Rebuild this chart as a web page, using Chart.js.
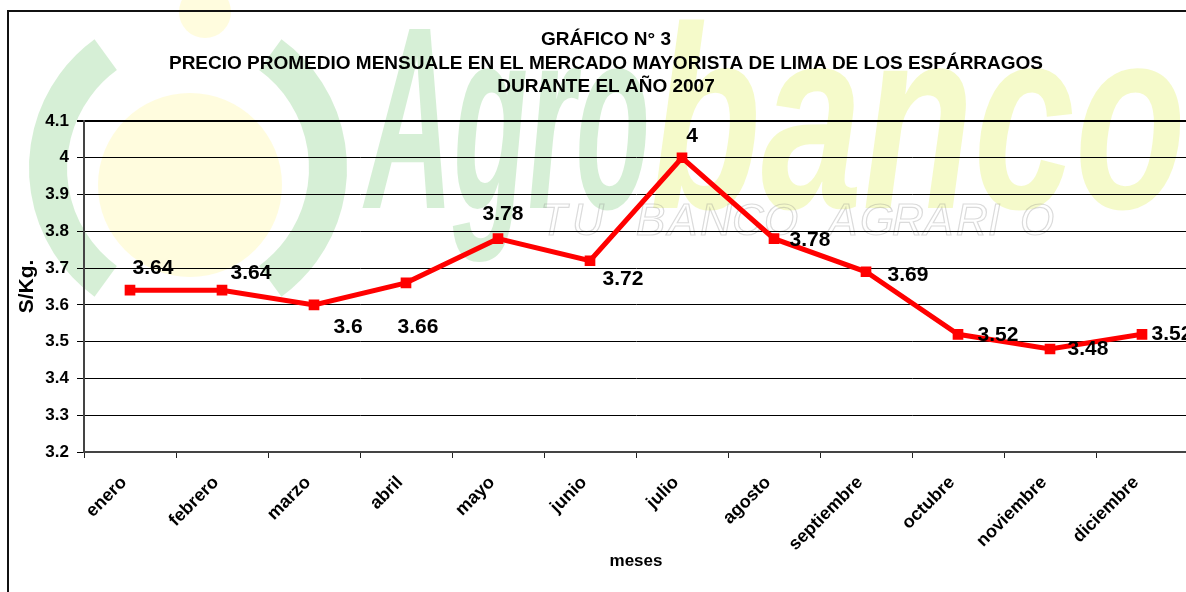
<!DOCTYPE html>
<html>
<head>
<meta charset="utf-8">
<script src="https://cdn.jsdelivr.net/npm/chart.js@4.4.1/dist/chart.umd.min.js"></script>
<style>
  html, body { margin: 0; padding: 0; overflow: hidden; background: #fff; }
  #wrap { width: 1200px; height: 592px; }
</style>
</head>
<body>
<div id="wrap"><canvas id="myChart"></canvas></div>
<script>
const meses = ["enero", "febrero", "marzo", "abril", "mayo", "junio", "julio",
               "agosto", "septiembre", "octubre", "noviembre", "diciembre"];
const precios = [3.64, 3.64, 3.6, 3.66, 3.78, 3.72, 4, 3.78, 3.69, 3.52, 3.48, 3.52];
const titulo = ["GRÁFICO N° 3",
                "PRECIO PROMEDIO MENSUALE EN EL MERCADO MAYORISTA DE LIMA DE LOS ESPÁRRAGOS",
                "DURANTE EL AÑO 2007"];

const FONT = "'Liberation Sans', Arial, sans-serif";

// where each value label sits relative to its point (Excel put them by hand)
const labelOffsets = [[23, -22], [29, -17], [34, 22], [12, 44], [5, -24], [33, 18],
                      [10, -22], [36, 2], [42, 3], [40, 1], [38, 0], [30, 0]];

const fondo = {
    id: "fondo",
    beforeDraw( chart ) {
        const ctx = chart.ctx;
        ctx.save();
        ctx.fillStyle = "#fff";
        ctx.fillRect( 0, 0, chart.width, chart.height );

        // faded Agrobanco watermark
        ctx.globalAlpha = 0.25;
        ctx.fillStyle = "#fff27a";
        ctx.beginPath();
        ctx.arc( 190, 185, 92, 0, Math.PI * 2 );
        ctx.fill();
        ctx.beginPath();
        ctx.arc( 205, 12, 26, 0, Math.PI * 2 );
        ctx.fill();

        ctx.strokeStyle = "#5cc05c";
        ctx.lineWidth = 38;
        ctx.beginPath();
        ctx.arc( 188, 168, 140, Math.PI * 0.7, Math.PI * 1.3 );
        ctx.stroke();
        ctx.beginPath();
        ctx.arc( 188, 168, 140, -Math.PI * 0.3, Math.PI * 0.3 );
        ctx.stroke();

        ctx.font = "italic bold 260px " + FONT;
        ctx.textBaseline = "alphabetic";
        ctx.save();
        ctx.translate( 365, 208 );
        ctx.scale( 0.47, 1 );
        ctx.fillStyle = "#5cc05c";
        ctx.fillText( "Agro", 0, 0 );
        ctx.restore();
        ctx.save();
        ctx.translate( 650, 208 );
        ctx.scale( 0.7, 1 );
        ctx.fillStyle = "#d8ec2a";
        ctx.fillText( "banco", 0, 0 );
        ctx.restore();

        ctx.globalAlpha = 0.3;
        ctx.strokeStyle = "#888";
        ctx.lineWidth = 1.2;
        ctx.font = "italic 44px " + FONT;
        const lema = "TU BANCO AGRARIO";
        let x = 540;
        for ( const ch of lema ) {
            ctx.strokeText( ch, x, 235 );
            x += 32;
        }
        ctx.restore();
    },
    afterDraw( chart ) {
        const ctx = chart.ctx;
        ctx.save();
        ctx.strokeStyle = "#111";
        ctx.lineWidth = 2;
        ctx.strokeRect( 8, 11, chart.width + 20, chart.height + 20 );

        ctx.fillStyle = "#000";
        ctx.font = "bold 19px " + FONT;
        ctx.textAlign = "center";
        ctx.textBaseline = "middle";
        titulo.forEach( ( t, i ) => ctx.fillText( t, 606, 40 + i * 23.5 ) );
        ctx.restore();
    }
};

const etiquetas = {
    id: "etiquetas",
    afterDatasetsDraw( chart ) {
        const ctx = chart.ctx;
        const meta = chart.getDatasetMeta( 0 );
        ctx.save();
        ctx.fillStyle = "#000";
        ctx.font = "bold 21px " + FONT;
        ctx.textAlign = "center";
        ctx.textBaseline = "middle";
        meta.data.forEach( ( pt, i ) => {
            const [dx, dy] = labelOffsets[i];
            ctx.fillText( String( precios[i] ), pt.x + dx, pt.y + dy );
        } );
        ctx.restore();
    }
};

const myChartRef = document.getElementById( "myChart" ).getContext( "2d" );

new Chart( myChartRef, {
    type: "line",
    data: {
        labels: [...meses],
        datasets: [
            {
                label: "S/Kg.",
                data: [...precios],
                borderColor: "#ff0000",
                backgroundColor: "#ff0000",
                borderWidth: 5,
                pointStyle: "rect",
                pointRadius: 4,
                tension: 0,
            }
        ]
    },
    options: {
        responsive: true,
        maintainAspectRatio: false,
        animation: false,
        layout: {
            padding: { top: 121, right: 12, left: 0, bottom: 0 }
        },
        plugins: {
            legend: { display: false },
            tooltip: { enabled: false },
        },
        scales: {
            x: {
                offset: true,
                grid: {
                    offset: true,
                    drawOnChartArea: false,
                    drawTicks: true,
                    tickLength: 6,
                    color: "#222",
                },
                border: { color: "#444", width: 2 },
                ticks: {
                    color: "#000",
                    font: { family: FONT, size: 18, weight: "bold" },
                    maxRotation: 45,
                    minRotation: 45,
                    padding: 14,
                    labelOffset: -6,
                    autoSkip: false,
                },
                title: {
                    display: true,
                    text: "meses",
                    color: "#000",
                    font: { family: FONT, size: 17, weight: "bold" },
                    padding: { top: 0, bottom: 20 },
                },
                afterFit( scale ) { scale.height = 140; }
            },
            y: {
                min: 3.2,
                max: 4.1,
                ticks: {
                    stepSize: 0.1,
                    color: "#000",
                    font: { family: FONT, size: 17, weight: "bold" },
                    padding: 8,
                    callback: ( v ) => String( Math.round( v * 10 ) / 10 ),
                },
                grid: {
                    color: "#000",
                    lineWidth: ( c ) => c.index === 9 ? 2 : 1,
                    tickLength: 7,
                },
                border: { color: "#444", width: 2 },
                title: {
                    display: true,
                    text: "S/Kg.",
                    color: "#000",
                    font: { family: FONT, size: 21, weight: "bold" },
                    padding: { top: 15, bottom: 0 },
                },
                afterFit( scale ) { scale.width = 84; }
            }
        }
    },
    plugins: [fondo, etiquetas]
} );
</script>
</body>
</html>
